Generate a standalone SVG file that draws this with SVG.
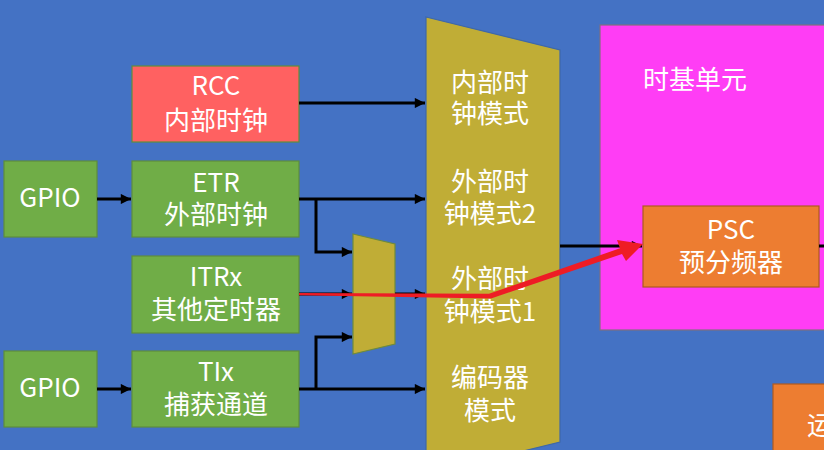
<svg xmlns="http://www.w3.org/2000/svg" width="824" height="450" viewBox="0 0 824 450">
<defs>
<style>
.t{font-family:"Noto Sans CJK SC","Noto Sans",sans-serif;font-size:26px;fill:#ffffff;text-anchor:middle}
.tl{font-family:"Noto Sans CJK SC","Noto Sans",sans-serif;font-size:26px;fill:#ffffff;text-anchor:middle}
.green{fill:#70AD47;stroke:#5E8E3C;stroke-width:1.2}
.gold{fill:#C0AD36;stroke:#3E68A8;stroke-width:1.2}
.gold2{fill:#C0AD36;stroke:#6E8B3D;stroke-width:1.2}
.orange{fill:#ED7D31;stroke:#AE5A21;stroke-width:1.2}
.wire{fill:none;stroke:#000;stroke-width:3}
</style>
<marker id="ah" viewBox="0 0 10 10" refX="10" refY="5" markerWidth="4" markerHeight="3.4" orient="auto" markerUnits="strokeWidth">
<path d="M0,0 L10,5 L0,10 z" fill="#000"/>
</marker>
</defs>
<rect x="0" y="0" width="824" height="450" fill="#4472C4"/>

<g id="timebase">
<rect x="600" y="25" width="230" height="305" fill="#FF3DF5" stroke="#7F6F80" stroke-width="1.2"/>
<text class="tl" x="695" y="89">时基单元</text>
</g>

<g id="psc">
<rect x="643" y="206" width="176" height="81" class="orange"/>
<text class="t" x="731" y="239">PSC</text>
<text class="t" x="731" y="272">预分频器</text>
</g>

<g id="counter">
<rect x="773" y="384" width="60" height="80" class="orange"/>
<text class="t" x="807" y="435" style="text-anchor:start">运</text>
</g>

<g id="clockmode">
<polygon points="426,17 560,50 560,442 426,475" class="gold"/>
<text class="tl" x="490" y="92">内部时</text>
<text class="tl" x="490" y="123">钟模式</text>
<text class="tl" x="490" y="191">外部时</text>
<text class="tl" x="490" y="223">钟模式2</text>
<text class="tl" x="490" y="288">外部时</text>
<text class="tl" x="490" y="321">钟模式1</text>
<text class="tl" x="490" y="387">编码器</text>
<text class="tl" x="490" y="420">模式</text>
</g>

<g id="mux">
<polygon points="353,234 395,244 395,344 353,354" class="gold2"/>
</g>

<g id="rcc">
<rect x="132" y="66" width="167" height="76" fill="#FF6161" stroke="#5E8E3C" stroke-width="1.2"/>
<text class="t" x="216" y="95">RCC</text>
<text class="t" x="216" y="130">内部时钟</text>
</g>

<g id="gpio1">
<rect x="4" y="161" width="93" height="76" class="green"/>
<text class="t" x="50" y="207">GPIO</text>
</g>

<g id="etr">
<rect x="132" y="161" width="167" height="76" class="green"/>
<text class="t" x="216" y="192">ETR</text>
<text class="t" x="216" y="224">外部时钟</text>
</g>

<g id="itrx">
<rect x="132" y="256" width="167" height="77" class="green"/>
<text class="t" x="216" y="286">ITRx</text>
<text class="t" x="216" y="319">其他定时器</text>
</g>

<g id="gpio2">
<rect x="4" y="351" width="93" height="76" class="green"/>
<text class="t" x="50" y="397">GPIO</text>
</g>

<g id="tix">
<rect x="132" y="351" width="167" height="76" class="green"/>
<text class="t" x="216" y="381">TIx</text>
<text class="t" x="216" y="414">捕获通道</text>
</g>

<g id="connectors">
<path class="wire" d="M299,103 H425" marker-end="url(#ah)"/>
<path class="wire" d="M97,199 H131" marker-end="url(#ah)"/>
<path class="wire" d="M299,199 H425" marker-end="url(#ah)"/>
<path class="wire" d="M316,199 V252 H352" marker-end="url(#ah)"/>
<path class="wire" d="M299,294 H352" marker-end="url(#ah)"/>
<path class="wire" d="M395,294 H425" marker-end="url(#ah)"/>
<path class="wire" d="M97,389 H131" marker-end="url(#ah)"/>
<path class="wire" d="M299,389 H425" marker-end="url(#ah)"/>
<path class="wire" d="M316,389 V337 H352" marker-end="url(#ah)"/>
<path class="wire" d="M560,246 H642" marker-end="url(#ah)"/>
<path class="wire" d="M819,246 H824"/>
<polygon points="299,293 489,293.8 620,248.3 617,240 643,244 626,261 622,254 491,298.5 299,295.2" fill="#EE1C25"/>
</g>
</svg>
